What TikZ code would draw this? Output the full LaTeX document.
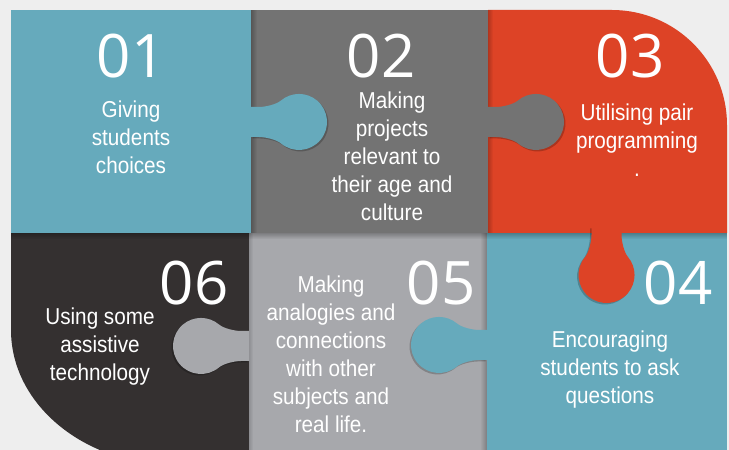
\documentclass[tikz,border=0pt]{standalone}
\usepackage{fontspec}
\setmainfont{Liberation Sans}
\newfontfamily\bodyfont[FakeStretch=0.9]{Liberation Sans}
\newfontfamily\numfont{Open Sans}
\usetikzlibrary{fadings}

\definecolor{bgcol}{HTML}{EEEEEE}
\definecolor{pteal}{HTML}{66AABC}
\definecolor{pgray}{HTML}{737373}
\definecolor{pred}{HTML}{DD4326}
\definecolor{pdark}{HTML}{343030}
\definecolor{plight}{HTML}{A7A8AC}

\tikzset{
  knobpath/.style={insert path={(0,-15) -- (8,-15) .. controls (14,-15) and (25.4,-17.5) .. (30,-21.4)
      arc[start angle=230, end angle=490, radius=28] .. controls (25.4,17.5) and (14,15) .. (8,15) -- (0,15) -- cycle}},
  knob/.pic={
    \fill[black, opacity=.22, shift={(1.5,-1.5)}, knobpath];
    \path[pic actions, knobpath];
  },
  numtxt/.style={text=white, inner sep=0pt, anchor=base, font=\numfont\fontsize{60}{60}\selectfont},
  bodytxt/.style={text=white, inner sep=0pt, align=center, font=\bodyfont\fontsize{23}{28}\selectfont}
}

\begin{document}
\begin{tikzpicture}[x=1pt, y=1pt]
        \useasboundingbox (0,0) rectangle (729,450);
        \fill[bgcol] (0,0) rectangle (729,450);
        \clip (0,0) rectangle (729,450);

        \fill[pdark] (249,217) -- (11,217) -- (11,120)
            arc[start angle=180, end angle=270, x radius=164, y radius=135] -- (249,-15) -- cycle;
        \fill[plight] (249,-15) rectangle (487,217);
        \fill[pteal] (487,-15) rectangle (727,217);
        \fill[black, opacity=.25, path fading=west] (480,-15) rectangle (487,217);
        \fill[black, opacity=.15, path fading=east] (249,-15) rectangle (253,217);

        \pic[fill=plight, xscale=-1] at (249,104) {knob};
        \pic[fill=pteal, xscale=-1] at (487,105) {knob};

        \fill[pteal] (11,217) rectangle (251,440);
        \fill[pgray] (251,217) rectangle (488,440);
        \fill[pred] (488,217) -- (488,440) -- (612,440)
            arc[start angle=90, end angle=0, radius=115] -- (727,217) -- cycle;
        \fill[black, opacity=.25, path fading=south] (11,211) rectangle (727,217);
        \fill[black, opacity=.25, path fading=east] (251,217) rectangle (257,440);
        \fill[black, opacity=.2, path fading=east] (488,217) rectangle (493,440);

        \pic[fill=pteal] at (251,328) {knob};
        \pic[fill=pgray] at (488,328) {knob};
        \pic[fill=pred, rotate=-90] at (606.5,223) {knob};

        \node[numtxt] (n01) at (131,372) {01};
        \node[numtxt] (n02) at (381,372) {02};
        \node[numtxt] (n03) at (630,372) {03};
        \node[numtxt] (n06) at (194,145) {06};
        \node[numtxt] (n05) at (441,145) {05};
        \node[numtxt] (n04) at (678,145) {04};

        \node[bodytxt] (t01) at (131,313) {Giving\\students\\choices};
        \node[bodytxt] (t02) at (392,294) {Making\\projects\\relevant to\\their age and\\culture};
        \node[bodytxt] (t03) at (637,310) {Utilising pair\\programming\\.};
        \node[bodytxt] (t06) at (100,103) {Using some\\assistive\\technology};
        \node[bodytxt] (t05) at (331,96) {Making\\analogies and\\connections\\with other\\subjects and\\real life.};
        \node[bodytxt] (t04) at (610,80) {Encouraging\\students to ask\\questions};
\end{tikzpicture}
\end{document}
